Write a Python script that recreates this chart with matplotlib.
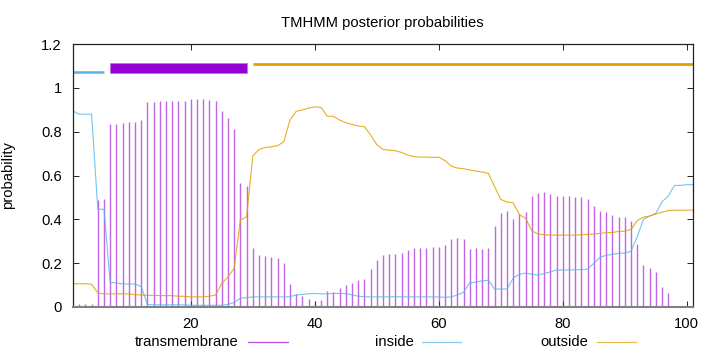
import numpy as np
import matplotlib
matplotlib.use("Agg")
import matplotlib.pyplot as plt
from matplotlib.lines import Line2D
from matplotlib.patches import Rectangle

plt.rcParams['font.family'] = ['Liberation Sans', 'DejaVu Sans']

positions = np.arange(1, 101)

transmembrane = [
    0.010, 0.014, 0.015, 0.015, 0.490, 0.495, 0.835, 0.835, 0.840, 0.843,
    0.845, 0.855, 0.937, 0.937, 0.940, 0.940, 0.940, 0.940, 0.940, 0.947,
    0.948, 0.948, 0.945, 0.940, 0.896, 0.864, 0.810, 0.564, 0.551, 0.269,
    0.239, 0.233, 0.227, 0.225, 0.199, 0.103, 0.058, 0.050, 0.038, 0.027,
    0.033, 0.073, 0.067, 0.087, 0.099, 0.109, 0.125, 0.129, 0.175, 0.216,
    0.237, 0.240, 0.240, 0.245, 0.260, 0.269, 0.268, 0.268, 0.272, 0.272,
    0.284, 0.309, 0.315, 0.309, 0.265, 0.270, 0.266, 0.270, 0.368, 0.430,
    0.438, 0.400, 0.426, 0.433, 0.505, 0.520, 0.523, 0.516, 0.508, 0.506,
    0.506, 0.502, 0.502, 0.493, 0.462, 0.438, 0.432, 0.421, 0.411, 0.409,
    0.392, 0.287, 0.190, 0.176, 0.161, 0.093, 0.062, 0.005, 0.005, 0.003,
]

inside = [
    0.894, 0.880, 0.880, 0.880, 0.446, 0.446, 0.111, 0.110, 0.105, 0.105,
    0.105, 0.093, 0.012, 0.010, 0.010, 0.010, 0.010, 0.010, 0.010, 0.008,
    0.008, 0.008, 0.008, 0.008, 0.008, 0.012, 0.021, 0.040, 0.043, 0.046,
    0.046, 0.046, 0.046, 0.046, 0.046, 0.047, 0.055, 0.058, 0.060, 0.062,
    0.060, 0.060, 0.062, 0.062, 0.061, 0.055, 0.049, 0.047, 0.046, 0.046,
    0.046, 0.046, 0.047, 0.046, 0.046, 0.046, 0.046, 0.046, 0.046, 0.046,
    0.044, 0.046, 0.055, 0.067, 0.111, 0.113, 0.120, 0.122, 0.082, 0.082,
    0.082, 0.132, 0.149, 0.155, 0.149, 0.146, 0.153, 0.160, 0.169, 0.169,
    0.169, 0.170, 0.170, 0.173, 0.199, 0.227, 0.236, 0.240, 0.245, 0.246,
    0.254, 0.320, 0.400, 0.415, 0.427, 0.480, 0.506, 0.555, 0.555, 0.558,
]

outside = [
    0.106, 0.106, 0.106, 0.104, 0.064, 0.060, 0.060, 0.060, 0.060, 0.060,
    0.056, 0.055, 0.053, 0.053, 0.052, 0.052, 0.052, 0.049, 0.049, 0.046,
    0.046, 0.046, 0.049, 0.055, 0.108, 0.137, 0.178, 0.397, 0.412, 0.689,
    0.719, 0.728, 0.731, 0.736, 0.754, 0.853, 0.893, 0.899, 0.908, 0.913,
    0.911, 0.871, 0.870, 0.853, 0.841, 0.833, 0.826, 0.823, 0.785, 0.741,
    0.719, 0.716, 0.713, 0.705, 0.693, 0.686, 0.684, 0.684, 0.683, 0.683,
    0.668, 0.643, 0.634, 0.631, 0.625, 0.620, 0.616, 0.610, 0.549, 0.491,
    0.479, 0.476, 0.421, 0.405, 0.348, 0.333, 0.330, 0.328, 0.328, 0.328,
    0.328, 0.328, 0.330, 0.331, 0.333, 0.336, 0.339, 0.340, 0.345, 0.346,
    0.354, 0.394, 0.410, 0.415, 0.424, 0.433, 0.440, 0.442, 0.442, 0.442,
]

# predicted topology segments (start, end)
seg_inside = (1, 6)
seg_tm = (7, 29)
seg_outside = (30, 101)

x_ticks = [20, 40, 60, 80, 100]
y_ticks = [0, 0.2, 0.4, 0.6, 0.8, 1.0, 1.2]
y_tick_labels = ["0", "0.2", "0.4", "0.6", "0.8", "1", "1.2"]

C_TM = '#9400d3'
C_IN = '#56b4e9'
C_OUT = '#e69f00'
FS = 10.6

fig = plt.figure(figsize=(7.2, 3.52), dpi=100)
ax = fig.add_axes([73/720, 1-307/352, 620/720, 263/352])

ax.vlines(positions, 0, transmembrane, color=C_TM, lw=1.0, alpha=0.6)
xl = np.append(positions, positions[-1] + 1)
ax.plot(xl, np.append(inside, inside[-1]), color=C_IN, lw=0.8, alpha=0.8)
ax.plot(xl, np.append(outside, outside[-1]), color=C_OUT, lw=0.8, alpha=0.85)

# topology bars
ax.plot(seg_inside, [1.072, 1.072], color=C_IN, lw=1.8, solid_capstyle='butt')
ax.add_patch(Rectangle((seg_tm[0], 1.068), seg_tm[1] - seg_tm[0], 0.045,
                       facecolor=C_TM, edgecolor='#c070e8', lw=0.6))
ax.plot(seg_outside, [1.109, 1.109], color=C_OUT, lw=2.0, solid_capstyle='butt')

ax.set_xlim(1, 101)
ax.set_ylim(0, 1.2)
ax.set_xticks(x_ticks)
ax.set_yticks(y_ticks)
ax.set_yticklabels(y_tick_labels)
ax.tick_params(direction='in', length=4, width=0.6, top=True, right=True,
               labelsize=FS, colors='#000000')
ax.tick_params(axis='x', pad=7)
ax.tick_params(axis='y', pad=8)
for s in ax.spines.values():
    s.set_linewidth(0.9)
    s.set_color('#222222')
ax.spines['bottom'].set_color('#808080')
ax.spines['bottom'].set_linewidth(1.5)

ax.set_ylabel('probability', fontsize=FS)
ax.yaxis.set_label_coords((15 - 73) / 620, 0.5)

fig.text(382/720, 1 - 27/352, 'TMHMM posterior probabilities', ha='center',
         va='baseline', fontsize=FS)

# legend below
legend_items = [("transmembrane", C_TM, 239, 248, 288),
                ("inside", C_IN, 414, 422, 461),
                ("outside", C_OUT, 588, 597, 636)]
for label, col, xr, x0, x1 in legend_items:
    fig.text(xr/720, 1 - 346/352, label, ha='right', va='baseline', fontsize=FS)
    fig.add_artist(Line2D([x0/720, x1/720], [1 - 341.5/352, 1 - 341.5/352],
                          color=col, lw=0.9, alpha=0.7, transform=fig.transFigure))

fig.savefig('out.png', dpi=100)
